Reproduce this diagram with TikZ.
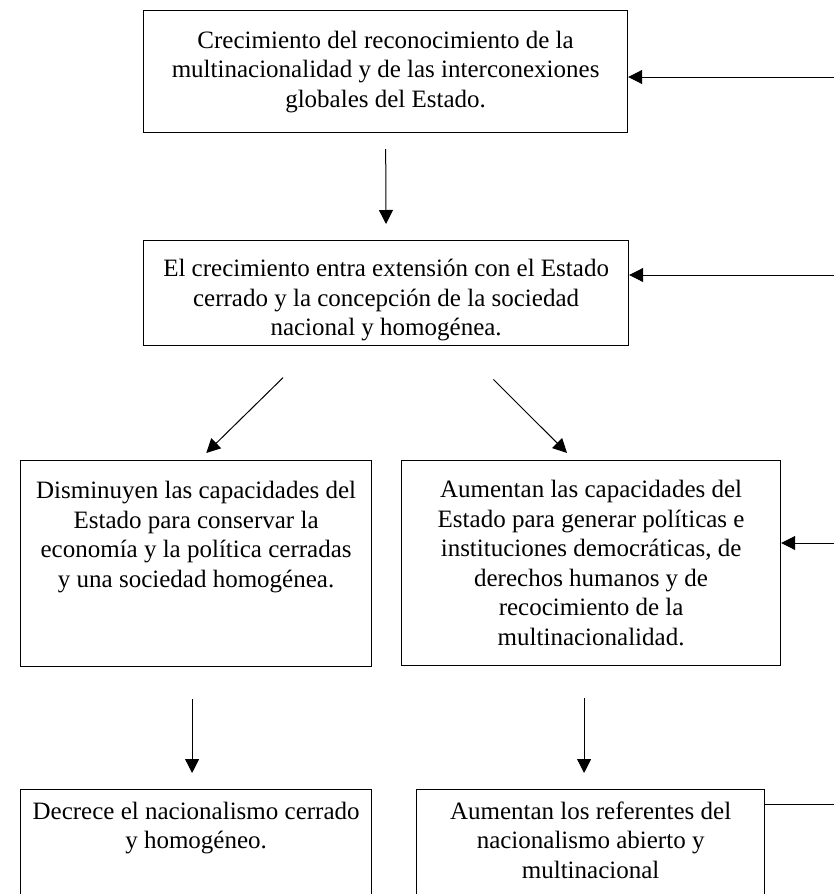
\documentclass[tikz,border=0pt]{standalone}
\usepackage{fontspec}
\setmainfont{Liberation Serif}
\usetikzlibrary{arrows.meta}
\tikzset{
  caja/.style={draw, line width=1.2pt, align=center, anchor=north west, inner sep=4pt, font=\fontsize{25}{29.5}\selectfont},
  flecha/.style={-{Triangle[width=14pt,length=14pt]}, line width=1pt},
}
\begin{document}
\begin{tikzpicture}[x=1pt,y=-1pt]
\useasboundingbox (0,0) rectangle (834,894);
\clip (0,0) rectangle (834,894);
\node[caja, minimum width=484pt, minimum height=122pt] (crec) at (143,10) {Crecimiento del reconocimiento de la\\multinacionalidad y de las interconexiones\\globales del Estado.};
\node[caja, inner ysep=3pt, minimum width=485pt, minimum height=105pt] (estado) at (143,240) {\mbox{}\\[2.5pt]El crecimiento entra extensión con el Estado\\cerrado y la concepción de la sociedad\\nacional y homogénea.};
\node[caja, minimum width=351pt, minimum height=206pt] (dism) at (20,460) {Disminuyen las capacidades del\\Estado para conservar la\\economía y la política cerradas\\y una sociedad homogénea.\\\mbox{}\\\mbox{}};
\node[caja, minimum width=379pt, minimum height=205pt] (aum) at (401,460) {Aumentan las capacidades del\\Estado para generar políticas e\\instituciones democráticas, de\\derechos humanos y de\\recocimiento de la\\multinacionalidad.};
\node[caja, minimum width=351pt, minimum height=130pt] (decr) at (20,789) {Decrece el nacionalismo cerrado\\y homogéneo.\\\mbox{}\\\mbox{}};
\node[caja, minimum width=348pt, minimum height=130pt] (refs) at (416,789) {Aumentan los referentes del\\nacionalismo abierto y\\multinacional\\\mbox{}};
\coordinate (e1) at (834,77);
\coordinate (e2) at (834,275);
\coordinate (e3) at (834,543);
\coordinate (e4) at (834,804);
\draw[flecha, shorten <=16pt, shorten >=16pt] (crec.south) -- (estado.north);
\draw[flecha, shorten <=45pt, shorten >=10pt] ([xshift=-71pt]estado.south) -- ([xshift=3pt]dism.north);
\draw[flecha, shorten <=47pt, shorten >=10pt] ([xshift=74pt]estado.south) -- ([xshift=-17pt]aum.north);
\draw[flecha, shorten <=32pt, shorten >=16pt] ([xshift=-4pt]dism.south) -- ([xshift=-4pt]dism.south |- decr.north);
\draw[flecha, shorten <=32pt, shorten >=16pt] ([xshift=-7pt]aum.south) -- ([xshift=-7pt]aum.south |- refs.north);
\draw[flecha] (e1) -- (e1 -| crec.east);
\draw[flecha] (e2) -- (e2 -| estado.east);
\draw[flecha] (e3) -- (e3 -| aum.east);
\draw[line width=1pt] (refs.east |- e4) -- (e4);
\end{tikzpicture}
\end{document}
